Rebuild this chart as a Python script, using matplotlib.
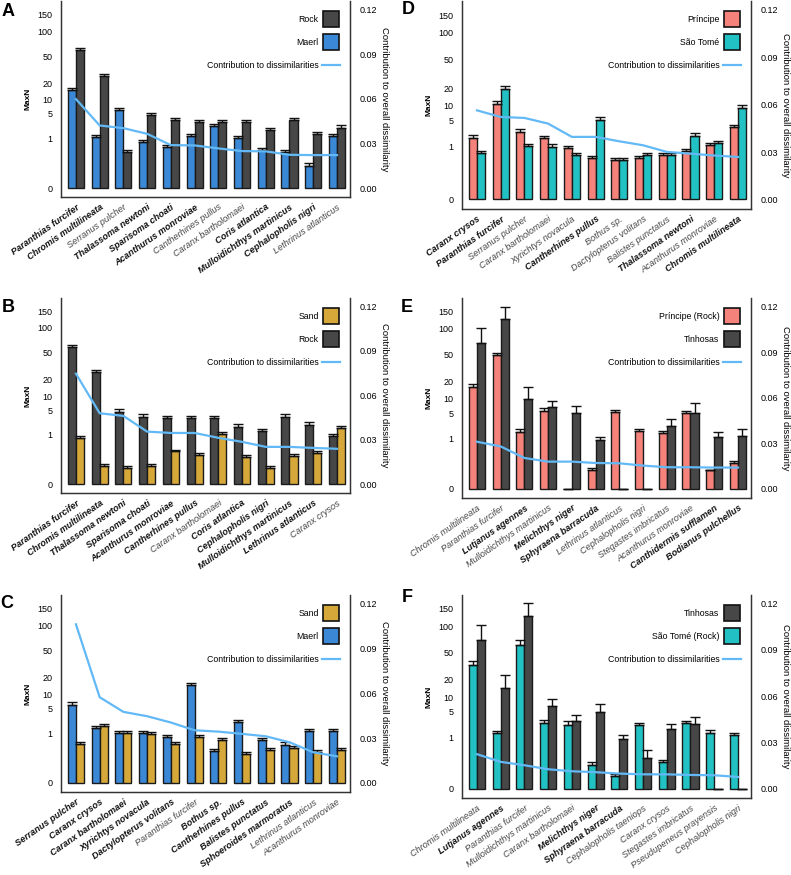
import numpy as np
import matplotlib.pyplot as plt
from matplotlib.lines import Line2D

plt.rcParams['font.family'] = ['Liberation Sans', 'DejaVu Sans']

# colours
DARK = '#474747'
BLUE = '#3b88d6'
GOLD = '#d6a83a'
SALMON = '#f5837b'
TEAL = '#22c2c4'
LINE = '#62b9f6'

# ---- Panel A: Maerl vs Rock ----
a_species = ['Paranthias furcifer', 'Chromis multilineata', 'Serranus pulcher', 'Thalassoma newtoni',
             'Sparisoma choati', 'Acanthurus monroviae', 'Cantherhines pullus', 'Caranx bartholomaei',
             'Coris atlantica', 'Mulloidichthys martinicus', 'Cephalopholis nigri', 'Lethrinus atlanticus']
a_bold = [1, 1, 0, 1, 1, 1, 0, 0, 1, 1, 1, 0]
a_maerl = [15.4, 1.08, 6.2, 0.76, 0.48, 1.2, 2.43, 1.05, 0.33, 0.28, 0.04, 1.23]
a_maerl_err = [1.4, 0.2, 0.7, 0.15, 0.11, 0.22, 0.37, 0.2, 0.09, 0.08, 0.02, 0.22]
a_rock = [59, 26.1, 0.28, 4.67, 3.44, 3.05, 3.05, 3.05, 1.86, 3.5, 1.4, 2.18]
a_rock_err = [3.8, 2.1, 0.08, 0.6, 0.48, 0.44, 0.44, 0.44, 0.3, 0.49, 0.24, 0.34]
a_contrib = [0.0597, 0.042, 0.0402, 0.0364, 0.0288, 0.0286, 0.0266, 0.0248, 0.0246, 0.0223, 0.0221, 0.0221]

# ---- Panel B: Rock vs Sand ----
b_species = ['Paranthias furcifer', 'Chromis multilineata', 'Thalassoma newtoni', 'Sparisoma choati',
             'Acanthurus monroviae', 'Cantherhines pullus', 'Caranx bartholomaei', 'Coris atlantica',
             'Cephalopholis nigri', 'Mulloidichthys martinicus', 'Lethrinus atlanticus', 'Caranx crysos']
b_bold = [1, 1, 1, 1, 1, 1, 0, 1, 1, 1, 1, 0]
b_rock = [58.9, 26.3, 4.62, 3.47, 3.14, 3.14, 3.14, 1.82, 1.3, 3.47, 2.09, 0.92]
b_rock_err = [3.8, 2.1, 0.6, 0.48, 0.44, 0.44, 0.44, 0.3, 0.23, 0.48, 0.33, 0.17]
b_sand = [0.755, 0.018, 0.011, 0.018, 0.19, 0.114, 1.06, 0.086, 0.011, 0.104, 0.15, 1.62]
b_sand_err = [0.14, 0.01, 0.008, 0.01, 0.05, 0.035, 0.2, 0.03, 0.008, 0.03, 0.04, 0.26]
b_contrib = [0.0745, 0.0478, 0.046, 0.0354, 0.0345, 0.0345, 0.0312, 0.0285, 0.0251, 0.0251, 0.0244, 0.0238]

# ---- Panel C: Maerl vs Sand ----
c_species = ['Serranus pulcher', 'Caranx crysos', 'Caranx bartholomaei', 'Xyrichtys novacula',
             'Dactylopterus volitans', 'Paranthias furcifer', 'Bothus sp.', 'Cantherhines pullus',
             'Balistes punctatus', 'Sphoeroides marmoratus', 'Lethrinus atlanticus', 'Acanthurus monroviae']
c_bold = [1, 1, 1, 1, 1, 0, 1, 1, 1, 1, 0, 0]
c_maerl = [6.12, 1.5, 1.0, 1.0, 0.695, 14.97, 0.168, 2.22, 0.565, 0.346, 1.14, 1.14]
c_maerl_err = [0.7, 0.25, 0.19, 0.19, 0.14, 1.4, 0.05, 0.35, 0.12, 0.09, 0.21, 0.21]
c_sand = [0.383, 1.65, 1.0, 0.92, 0.383, 0.716, 0.53, 0.113, 0.182, 0.231, 0.154, 0.182]
c_sand_err = [0.09, 0.27, 0.19, 0.18, 0.09, 0.14, 0.12, 0.035, 0.05, 0.06, 0.045, 0.05]
c_contrib = [0.106, 0.0573, 0.0475, 0.0446, 0.0404, 0.0352, 0.0343, 0.0328, 0.0312, 0.0272, 0.0205, 0.0178]

# ---- Panel D: Principe vs Sao Tome ----
d_species = ['Caranx crysos', 'Paranthias furcifer', 'Serranus pulcher', 'Caranx bartholomaei',
             'Xyrichtys novacula', 'Cantherhines pullus', 'Bothus sp.', 'Dactylopterus volitans',
             'Balistes punctatus', 'Thalassoma newtoni', 'Acanthurus monroviae', 'Chromis multilineata']
d_bold = [1, 1, 0, 0, 0, 1, 0, 0, 0, 1, 0, 1]
d_principe = [1.88, 10.9, 2.72, 1.84, 0.88, 0.39, 0.30, 0.367, 0.50, 0.71, 1.13, 3.56]
d_principe_err = [0.3, 1.1, 0.4, 0.3, 0.17, 0.09, 0.07, 0.09, 0.11, 0.14, 0.21, 0.5]
d_saotome = [0.616, 19.5, 1.05, 1.0, 0.50, 5.3, 0.30, 0.487, 0.50, 2.14, 1.28, 9.18]
d_saotome_err = [0.13, 1.9, 0.2, 0.19, 0.11, 0.65, 0.07, 0.11, 0.11, 0.33, 0.23, 1.0]
d_contrib = [0.0564, 0.0522, 0.0516, 0.048, 0.0396, 0.0396, 0.0368, 0.0343, 0.0301, 0.029, 0.0278, 0.0269]

# ---- Panel E: Principe (Rock) vs Tinhosas ----
e_species = ['Chromis multilineata', 'Paranthias furcifer', 'Lutjanus agennes', 'Mulloidichthys martinicus',
             'Melichthys niger', 'Sphyraena barracuda', 'Lethrinus atlanticus', 'Cephalopholis nigri',
             'Stegastes imbricatus', 'Acanthurus monroviae', 'Canthidermis sufflamen', 'Bodianus pulchellus']
e_bold = [0, 0, 1, 0, 1, 1, 0, 0, 0, 0, 1, 1]
e_principe = [16.1, 48.6, 1.63, 5.67, 0, 0.021, 5.2, 1.74, 1.48, 5.02, 0.021, 0.066]
e_principe_err = [2.2, 3.9, 0.32, 0.82, 0, 0.01, 0.76, 0.21, 0.26, 0.65, 0, 0.031]
e_tinhosas = [69.7, 127.8, 9.88, 6.7, 4.93, 0.89, 0, 0, 2.42, 5.02, 1.07, 1.22]
e_tinhosas_err = [33.1, 38.7, 6.2, 2.47, 2.34, 0.24, 0, 0, 1.2, 3.22, 0.48, 0.73]
e_contrib = [0.031, 0.0279, 0.0203, 0.0179, 0.0179, 0.017, 0.0168, 0.0153, 0.0142, 0.0142, 0.014, 0.014]

# ---- Panel F: Sao Tome (Rock) vs Tinhosas ----
f_species = ['Chromis multilineata', 'Lutjanus agennes', 'Paranthias furcifer', 'Mulloidichthys martinicus',
             'Caranx bartholomaei', 'Melichthys niger', 'Sphyraena barracuda', 'Cephalopholis taeniops',
             'Caranx crysos', 'Stegastes imbricatus', 'Pseudupeneus prayensis', 'Cephalopholis nigri']
f_bold = [0, 1, 0, 0, 0, 1, 1, 0, 0, 0, 0, 0]
f_saotome = [33.6, 1.36, 61.4, 2.64, 2.39, 0.049, 0.0034, 2.29, 0.068, 2.64, 1.42, 1.2]
f_saotome_err = [4.5, 0.2, 9.0, 0.59, 0.54, 0.026, 0.003, 0.35, 0.028, 0.29, 0.3, 0.22]
f_tinhosas = [70.4, 14.8, 128.7, 6.8, 3.05, 4.94, 0.878, 0.131, 1.8, 2.49, 0, 0]
f_tinhosas_err = [32.5, 8.8, 41, 2.6, 1.1, 2.4, 0.32, 0.19, 0.74, 1.28, 0, 0]
f_contrib = [0.0224, 0.0174, 0.0152, 0.0126, 0.0113, 0.0107, 0.0098, 0.0093, 0.0093, 0.0089, 0.0087, 0.0076]

W, H = 791, 875
fig = plt.figure(figsize=(W / 100, H / 100), dpi=100)


def fwd(v):
    v = np.asarray(v, dtype=float)
    return np.sign(v) * np.abs(v) ** 0.25


def inv(v):
    v = np.asarray(v, dtype=float)
    return np.sign(v) * np.abs(v) ** 4


def px_rect(left, top, right, bottom):
    return [left / W, 1 - bottom / H, (right - left) / W, (bottom - top) / H]


def draw_panel(rect, letter, letter_xy, species, bold, series, contrib, legend_idx):
    ax = fig.add_axes(rect)
    x = np.arange(len(species))
    w = 0.34
    handles = {}
    for off, (name, vals, errs, color) in zip([-w / 2, w / 2], series):
        ax.bar(x + off, vals, w, color=color, edgecolor='#1a1a1a', linewidth=1.0, zorder=2)
        ax.errorbar(x + off, vals, yerr=[np.zeros(len(vals)), errs], fmt='none',
                    ecolor='#111111', elinewidth=1.0, capsize=3.5, capthick=1.0, zorder=3)
        handles[name] = Line2D([], [], marker='s', markersize=11, markerfacecolor=color,
                               markeredgecolor='#111111', markeredgewidth=1.2, linestyle='none')
    ax.set_yscale('function', functions=(fwd, inv))
    ax.set_ylim(-0.00107, 201.6)
    ax.set_yticks([0, 1, 5, 10, 20, 50, 100, 150])
    ax.set_yticklabels(['0', '1', '5', '10', '20', '50', '100', '150'])
    ax.set_xlim(-0.63, 11.55)
    ax.set_xticks(x)
    ax.set_xticklabels(species)
    for lab, b in zip(ax.get_xticklabels(), bold):
        lab.set_rotation(35)
        lab.set_ha('right')
        lab.set_rotation_mode('anchor')
        lab.set_fontstyle('italic')
        lab.set_fontsize(6.6)
        if b:
            lab.set_fontweight('bold')
            lab.set_color('#111111')
        else:
            lab.set_color('#444444')
    ax.tick_params(axis='x', length=0, pad=4)
    ax.tick_params(axis='y', length=0, pad=6, labelsize=6.5)
    ax.set_ylabel('MaxN', fontsize=6, fontweight='bold', va='center')
    ax.yaxis.set_label_coords(-0.114, 0.5)
    ax.spines['top'].set_visible(False)
    for s in ['left', 'right', 'bottom']:
        ax.spines[s].set_color('#333333')
        ax.spines[s].set_linewidth(0.9)

    ax2 = ax.twinx()
    ax2.plot(x, contrib, color=LINE, lw=1.6, zorder=4)
    ax2.set_ylim(-0.00604, 0.1256)
    ax2.set_yticks([0, 0.03, 0.06, 0.09, 0.12])
    ax2.set_yticklabels(['0.00', '0.03', '0.06', '0.09', '0.12'])
    ax2.tick_params(axis='y', length=0, pad=7, labelsize=6.5)
    ax2.set_ylabel('Contribution to overall dissimilarity', fontsize=6.8, rotation=270,
                   va='center', ha='center')
    ax2.yaxis.set_label_coords(1.118, 0.5)
    ax2.spines['top'].set_visible(False)
    for s in ['left', 'right', 'bottom']:
        ax2.spines[s].set_color('#333333')
        ax2.spines[s].set_linewidth(0.9)

    names = [series[i][0] for i in legend_idx]
    hs = [handles[n] for n in names] + [Line2D([], [], color=LINE, lw=1.6)]
    ax2.legend(hs, names + ['Contribution to dissimilarities'], loc='upper right',
               bbox_to_anchor=(0.985, 0.96), frameon=False, markerfirst=False, fontsize=6.3,
               handlelength=2.0, handletextpad=0.4, labelspacing=1.6, borderpad=0.2)

    fig.text(letter_xy[0] / W, 1 - letter_xy[1] / H, letter, ha='center', va='center',
             fontsize=13, fontweight='bold')


draw_panel(px_rect(61, 1, 350, 197), 'A', (8, 11), a_species, a_bold,
           [('Maerl', a_maerl, a_maerl_err, BLUE), ('Rock', a_rock, a_rock_err, DARK)],
           a_contrib, [1, 0])
draw_panel(px_rect(61, 298, 350, 493), 'B', (8, 307), b_species, b_bold,
           [('Rock', b_rock, b_rock_err, DARK), ('Sand', b_sand, b_sand_err, GOLD)],
           b_contrib, [1, 0])
draw_panel(px_rect(61, 595, 350, 792), 'C', (7, 603), c_species, c_bold,
           [('Maerl', c_maerl, c_maerl_err, BLUE), ('Sand', c_sand, c_sand_err, GOLD)],
           c_contrib, [1, 0])
draw_panel(px_rect(462, 1, 751, 209), 'D', (408, 10), d_species, d_bold,
           [('Príncipe', d_principe, d_principe_err, SALMON), ('São Tomé', d_saotome, d_saotome_err, TEAL)],
           d_contrib, [0, 1])
draw_panel(px_rect(462, 298, 751, 498), 'E', (407, 307), e_species, e_bold,
           [('Príncipe (Rock)', e_principe, e_principe_err, SALMON), ('Tinhosas', e_tinhosas, e_tinhosas_err, DARK)],
           e_contrib, [0, 1])
draw_panel(px_rect(462, 595, 751, 798), 'F', (407, 597), f_species, f_bold,
           [('São Tomé (Rock)', f_saotome, f_saotome_err, TEAL), ('Tinhosas', f_tinhosas, f_tinhosas_err, DARK)],
           f_contrib, [1, 0])

fig.savefig('out.png', dpi=100)
